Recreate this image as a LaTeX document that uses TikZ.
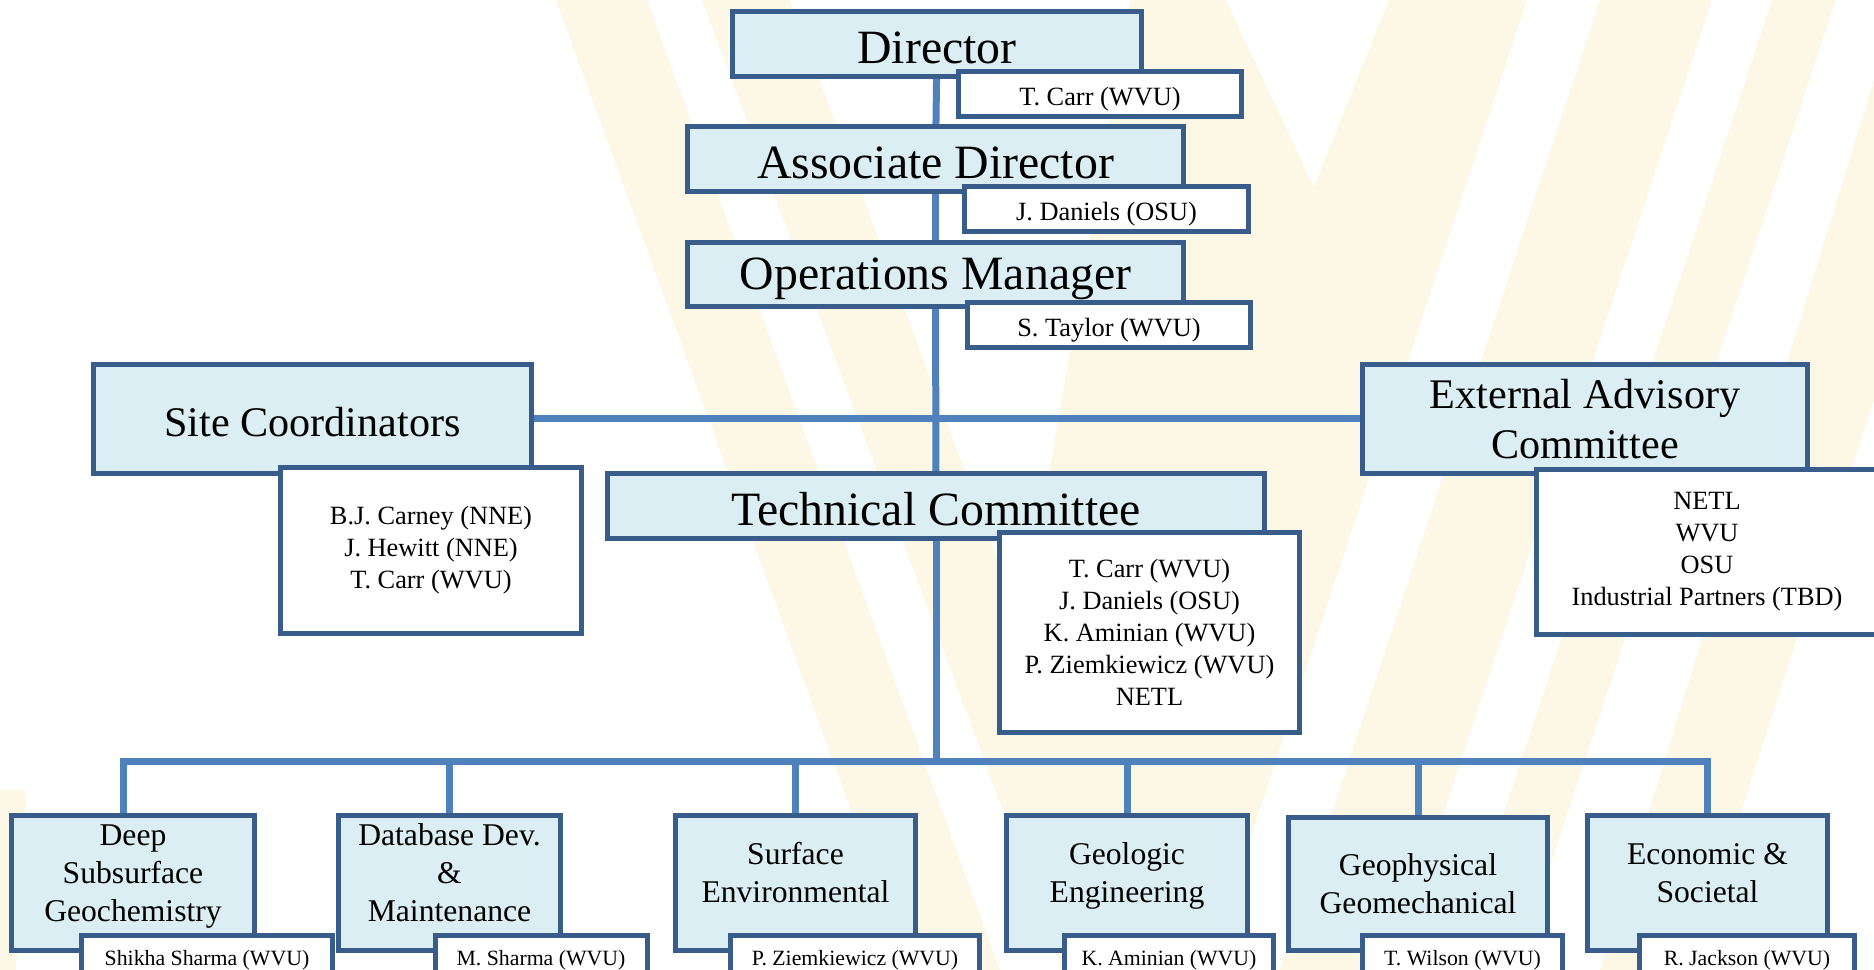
\documentclass[tikz,border=0pt]{standalone}
\usepackage{fontspec}
\setmainfont{Liberation Serif}
\usetikzlibrary{calc}

\definecolor{boxline}{RGB}{56,93,138}
\definecolor{boxfill}{RGB}{219,238,244}
\definecolor{linkblue}{RGB}{79,129,189}
\definecolor{cream}{RGB}{253,247,229}

% lift the text of a unit box a little above its centre
\newcommand{\lift}[1]{\raisebox{0.7mm}[\height][\depth]{\begin{tabular}{@{}c@{}}#1\end{tabular}}}

\begin{document}
\begin{tikzpicture}[
  x=0.1mm, y=-0.1mm,
  sink/.style={execute at begin node={\rule{0pt}{#1}}},
  post/.style={draw=boxline, line width=0.5mm, fill=boxfill, inner sep=0pt, align=center, font=\fontsize{13.6}{16.3}\selectfont, sink=0.83em},
  group/.style={post, font=\fontsize{12}{14.2}\selectfont, sink=0.8em},
  unit/.style={post, minimum height=13.5mm, font=\fontsize{9}{10.9}\selectfont, sink=0.9em},
  who/.style={draw=boxline, line width=0.5mm, fill=white, inner sep=0pt, align=center, minimum height=4.5mm, font=\fontsize{7.5}{9.1}\selectfont, sink=1.12em},
  lead/.style={who, minimum height=4mm, font=\fontsize{6.2}{7.4}\selectfont, sink=0pt},
  link/.style={draw=linkblue, line width=0.7mm},
]
\useasboundingbox (0,0) rectangle (1874,970);
\clip (0,0) rectangle (1874,970);

% watermark stripes
\fill[cream] (556,0) -- (647,0) -- (1000,970) -- (909,970) -- cycle;
\fill[cream] (702,0) -- (790,0) -- (1150,970) -- (1062,970) -- cycle;
\fill[cream] (1130,0) -- (1226,0) -- (1314,187) -- (1389,0) -- (1527,0) -- (1207,970) -- (1069,970) -- (1000,760) -- cycle;
\fill[cream] (1600,0) -- (1712,0) -- (1392,970) -- (1280,970) -- cycle;
\fill[cream] (1772,0) -- (1836,0) -- (1516,970) -- (1452,970) -- cycle;
\fill[cream] (1874,80) -- (1874,400) -- (1690,970) -- (1600,970) -- cycle;
\fill[cream] (0,790) -- (26,790) -- (16,970) -- (0,970) -- cycle;

% director chain
\node[post, minimum width=40.9mm, minimum height=6.5mm] (dir) at (937,44) {Director};
\node[post, minimum width=49.6mm, minimum height=6.5mm] (assoc) at (935.5,159) {Associate Director};
\node[post, minimum width=49.6mm, minimum height=6.4mm] (ops) at (935.5,274.5) {Operations Manager};
\node[group, minimum width=43.8mm, minimum height=10.9mm] (site) at (312.5,419) {Site Coordinators};
\node[group, minimum width=44.5mm, minimum height=10.9mm] (eac) at (1585,419) {External Advisory\\Committee};
\node[post, minimum width=65.7mm, minimum height=6.5mm] (tc) at (936,506) {Technical Committee};

% research units
\node[unit, minimum width=24.3mm] (deep) at (133,883) {\lift{Deep\\Subsurface\\Geochemistry}};
\node[unit, minimum width=22.2mm] (dbase) at (449.5,883) {\lift{Database Dev.\\\&\\Maintenance}};
\node[unit, minimum width=24mm] (surf) at (795.5,883) {\lift{Surface\\Environmental}};
\node[unit, minimum width=24.1mm] (geol) at (1127,883) {\lift{Geologic\\Engineering}};
\node[unit, minimum width=25.9mm, minimum height=13.3mm] (geoph) at (1418,884) {Geophysical\\Geomechanical};
\node[unit, minimum width=24mm] (econ) at (1707.5,883) {\lift{Economic \&\\Societal}};

% connectors
\coordinate (bus) at (936,762);
\draw[link] (dir) -- (assoc);
\draw[link] (assoc) -- (ops);
\draw[link] (ops) -- (tc);
\draw[link] (site) -- (eac);
\draw[link] (tc) -- (bus);
\draw[link, line cap=rect] ([xshift=-1mm]deep.north |- bus) -- (econ.north |- bus);
\draw[link] ([xshift=-1mm]deep.north) -- ([xshift=-1mm]deep.north |- bus);
\foreach \u in {dbase,surf,geol,geoph,econ}
  \draw[link] (\u.north) -- (\u.north |- bus);

% people
\node[who, minimum width=28.3mm] (dirwho) at (1100,94) {T. Carr (WVU)};
\node[who, minimum width=28.4mm] (assocwho) at (1106.5,209) {J. Daniels (OSU)};
\node[who, minimum width=28.3mm] (opswho) at (1109,325) {S. Taylor (WVU)};
\node[who, minimum width=30.1mm, minimum height=16.6mm] (sitewho) at (431,550.5) {B.J. Carney (NNE)\\J. Hewitt (NNE)\\T. Carr (WVU)};
\node[who, minimum width=34.1mm, minimum height=16.5mm] (eacwho) at (1707,552) {NETL\\WVU\\OSU\\Industrial Partners (TBD)};
\node[who, minimum width=30mm, minimum height=20mm] (tcwho) at (1149.5,632.5) {T. Carr (WVU)\\J. Daniels (OSU)\\K. Aminian (WVU)\\P. Ziemkiewicz (WVU)\\NETL};

\node[lead, minimum width=25.1mm] (deepwho) at (207,955.5) {Shikha Sharma (WVU)};
\node[lead, minimum width=21.2mm] (dbasewho) at (541,955.5) {M. Sharma (WVU)};
\node[lead, minimum width=24.9mm] (surfwho) at (855,955.5) {P. Ziemkiewicz (WVU)};
\node[lead, minimum width=20.9mm] (geolwho) at (1169,955.5) {K. Aminian (WVU)};
\node[lead, minimum width=20mm] (geophwho) at (1462.5,955.5) {T. Wilson (WVU)};
\node[lead, minimum width=21.5mm] (econwho) at (1747,955.5) {R. Jackson (WVU)};
\end{tikzpicture}
\end{document}
